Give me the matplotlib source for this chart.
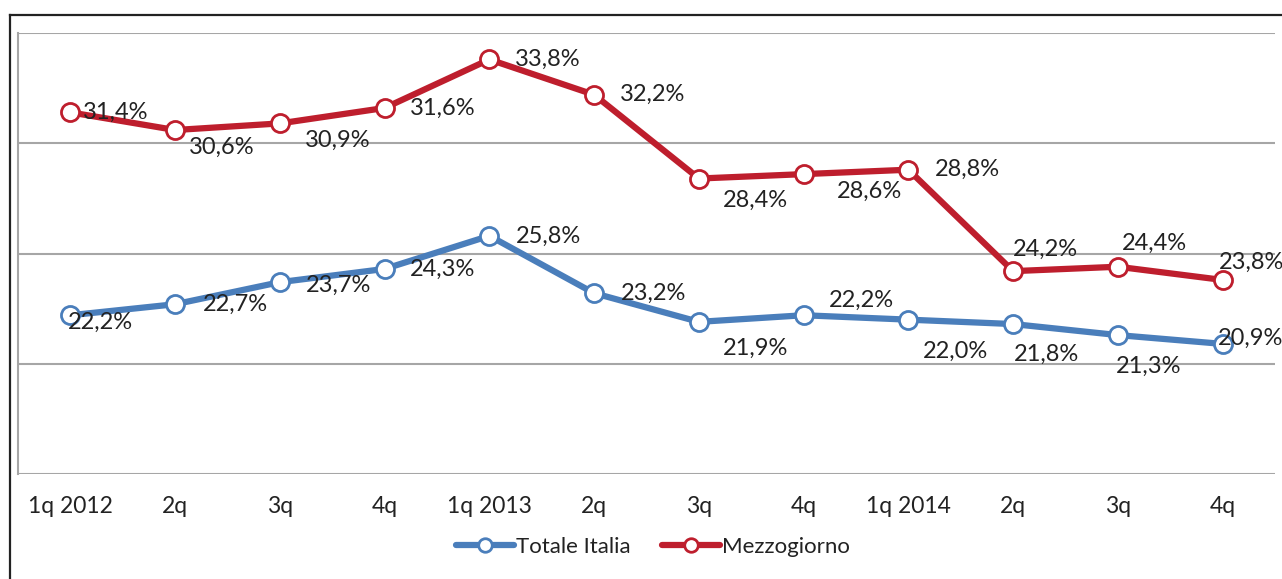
import matplotlib.pyplot as plt
from matplotlib.lines import Line2D

quarters = ["1q 2012", "2q", "3q", "4q", "1q 2013", "2q", "3q", "4q",
            "1q 2014", "2q", "3q", "4q"]
totale = [22.2, 22.7, 23.7, 24.3, 25.8, 23.2, 21.9, 22.2, 22.0, 21.8, 21.3, 20.9]
mezzo = [31.4, 30.6, 30.9, 31.6, 33.8, 32.2, 28.4, 28.6, 28.8, 24.2, 24.4, 23.8]

# label offsets in pixels (dx right, dy down) relative to each point
off_tot = [(30, 7), (60, 0), (59, 3), (58, 0), (59, 0), (59, 0),
           (57, 26), (58, -15), (47, 32), (33, 30), (31, 31), (28, -6)]
off_mez = [(45, 0), (47, 17), (58, 17), (58, 0), (58, 0), (58, 0),
           (57, 22), (66, 17), (59, 0), (32, -22), (37, -23), (29, -18)]

blue = "#4A7EBB"
red = "#BE1E2D"
plt.rcParams['font.family'] = ['Lato', 'DejaVu Sans']

fig = plt.figure(figsize=(12.82, 5.79), dpi=100)
W, H = 1282, 579
ax = fig.add_axes([18 / W, 1 - 474 / H, (1275 - 18) / W, (474 - 33) / H])

x = list(range(len(quarters)))
for vals, col, offs, name in [(totale, blue, off_tot, "Totale Italia"),
                              (mezzo, red, off_mez, "Mezzogiorno")]:
    ax.plot(x, vals, color=col, lw=4.5, marker="o", ms=13, mfc="white",
            mec=col, mew=2, label=name, solid_capstyle="round", zorder=3)
    for xi, v, (dx, dy) in zip(x, vals, offs):
        ax.annotate(f"{v:.1f}%".replace(".", ","), (xi, v),
                    xytext=(dx * 0.72, -dy * 0.72), textcoords="offset points",
                    ha="center", va="center", fontsize=17, color="#222222",
                    zorder=4)

ax.set_xlim(-0.5, 11.5)
ax.set_ylim(15, 35)
ax.set_yticks([15, 20, 25, 30, 35])
ax.set_yticklabels([])
ax.yaxis.grid(True, color="#A6A6A6", lw=1.5)
ax.set_axisbelow(True)
ax.tick_params(axis="y", length=0)
ax.set_xticks(x)
ax.set_xticklabels(quarters, fontsize=16.5, color="#222222")
ax.tick_params(axis="x", length=0, pad=16)
for s in ["top", "right", "bottom"]:
    ax.spines[s].set_visible(False)
ax.spines["left"].set_color("#A6A6A6")
ax.spines["left"].set_linewidth(1.5)

leg = ax.legend(loc="center", bbox_to_anchor=(653 / W, 1 - 547 / H),
                bbox_transform=fig.transFigure, ncol=2, frameon=False,
                fontsize=16, handlelength=2.6, handletextpad=0.1,
                columnspacing=1.4, markerscale=0.75)
for t in leg.get_texts():
    t.set_color("#222222")

# outer chart frame (cut at right and bottom)
fig.add_artist(Line2D([10 / W, 1], [1 - 15 / H, 1 - 15 / H], color="#222222",
                      lw=1.6, transform=fig.transFigure))
fig.add_artist(Line2D([10 / W, 10 / W], [0, 1 - 15 / H], color="#222222",
                      lw=1.6, transform=fig.transFigure))

fig.savefig("out.png", dpi=100)
